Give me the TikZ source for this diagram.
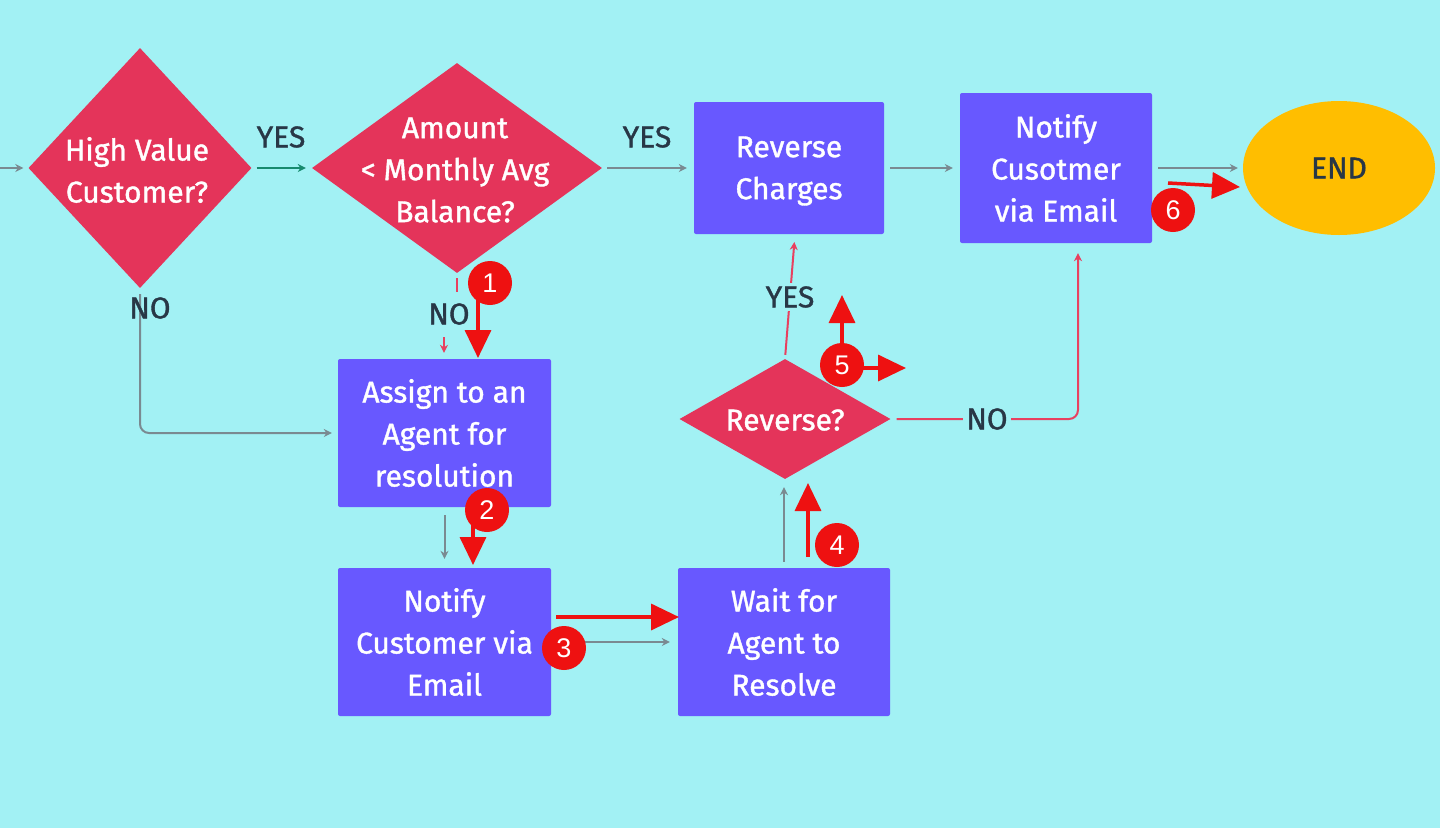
\documentclass[tikz,border=0pt]{standalone}
\usepackage{fontspec}
\setmainfont{Fira Sans}[RawFeature={embolden=1.2}]
\newfontfamily\numfont{Liberation Sans}
\usetikzlibrary{shapes.geometric,arrows.meta}
\definecolor{bg}{RGB}{162,241,244}
\definecolor{dred}{RGB}{228,52,90}
\definecolor{bpur}{RGB}{104,88,255}
\definecolor{endy}{RGB}{255,190,0}
\definecolor{lgray}{RGB}{122,138,145}
\definecolor{lgreen}{RGB}{23,138,110}
\definecolor{lred}{RGB}{232,64,95}
\definecolor{ared}{RGB}{238,17,17}
\definecolor{lbl}{RGB}{40,55,70}
\begin{document}
\begin{tikzpicture}[x=1pt,y=-1pt,
  dia/.style={diamond, fill=dred, draw=none, inner sep=0pt},
  dtext/.style={text=white, align=center, font=\fontsize{30}{42}\selectfont, inner sep=0pt},
  boxs/.style={rectangle, rounded corners=2pt, fill=bpur, text=white, align=center,
     font=\fontsize{30}{42}\selectfont, inner sep=0pt},
  lab/.style={text=lbl, font=\fontsize{30}{30}\selectfont, inner sep=1pt},
  labf/.style={lab, fill=bg, inner sep=3pt},
  gline/.style={draw=lgray, line width=2pt, -{Stealth[length=8pt,width=8pt]}},
  rline/.style={draw=lred, line width=2pt, -{Stealth[length=8pt,width=8pt]}},
  ann/.style={draw=ared, line width=3.5pt, -{Triangle[length=28pt,width=26pt]}},
  num/.style={circle, fill=ared, text=white, minimum size=44pt, inner sep=0pt,
     font=\numfont\fontsize{27}{27}\selectfont}
]
\fill[bg] (0,0) rectangle (1440,828);
\useasboundingbox (0,0) rectangle (1440,828);

% decisions
\node[dia, minimum width=223pt, minimum height=240pt] (d1) at (140,168) {};
\node[dtext] at (137,170) {High Value\\Customer?};
\node[dia, minimum width=290pt, minimum height=210pt] (d2) at (457,168) {};
\node[dtext] at (455,170) {Amount\\< Monthly Avg\\Balance?};
\node[dia, minimum width=211pt, minimum height=120pt] (rv) at (785,419) {};
\node[dtext] at (785,420) {Reverse?};

% boxes
\node[boxs, minimum width=190pt, minimum height=132pt] (rc) at (789,168) {};
\node[dtext] at (789,171) {Reverse\\Charges};
\node[boxs, minimum width=192pt, minimum height=150pt] (nt) at (1056,168) {Notify\\Cusotmer\\via Email};
\node[boxs, minimum width=213pt, minimum height=148pt] (as) at (444.5,433) {Assign to an\\Agent for\\resolution};
\node[boxs, minimum width=213pt, minimum height=148pt] (nb) at (444.5,642) {Notify\\Customer via\\Email};
\node[boxs, minimum width=212pt, minimum height=148pt] (wt) at (784,642) {Wait for\\Agent to\\Resolve};
\node[ellipse, fill=endy, minimum width=192pt, minimum height=134pt, inner sep=0pt,
      text=lbl, font=\fontsize{30}{30}\selectfont] (end) at (1339,168) {END};

% connectors
\coordinate (in0) at (0,168);
\draw[gline, shorten >=5pt] (in0) -- (d1.west);
\draw[gline, draw=lgreen, shorten <=5pt, shorten >=6pt] (d1.east) -- (d2.west);
\node[lab] at (281,137) {YES};
\draw[gline, shorten <=5pt, shorten >=7pt] (d2.east) -- (rc.west);
\node[lab] at (647,137) {YES};
\draw[gline, shorten <=6pt, shorten >=7pt] (rc.east) -- (nt.west);
\draw[gline, shorten <=6pt, shorten >=5pt] (nt.east) -- (end.west);

\draw[gline, rounded corners=9pt, shorten <=6pt, shorten >=6pt] (d1.south) -- (d1.south |- as.west) -- (as.west);
\node[lab] at (150,308) {NO};

\coordinate (n2a) at (457,278);
\coordinate (n2b) at (457,292);
\draw[draw=lred, line width=2pt] (n2a) -- (n2b);
\node[lab] at (449,314) {NO};
\coordinate (n2) at (444,337);
\draw[rline, shorten >=6pt] (n2) -- (n2 |- as.north);

\draw[gline, shorten <=8pt, shorten >=9pt] (as.south) -- (nb.north);
\draw[gline, shorten <=5pt, shorten >=8pt] (nb.east) -- (wt.west);
\draw[gline, shorten <=6pt, shorten >=8pt] (wt.north) -- (wt.north |- rv.south);

\coordinate (ry) at (795,234);
\draw[rline, shorten <=4pt, shorten >=8pt] (rv.north) -- (ry);
\node[labf] at (790,297) {YES};

\coordinate (nx) at (1078,419);
\draw[rline, rounded corners=9pt, shorten <=6pt, shorten >=10pt] (rv.east) -- (nx) -- (nx |- nt.south);
\node[labf] at (987,419) {NO};

% annotations
\coordinate (a1s) at (478,298); \coordinate (a1e) at (478,358);
\coordinate (a2s) at (473,510); \coordinate (a2e) at (473,565);
\coordinate (a3s) at (556,617); \coordinate (a3e) at (679,617);
\coordinate (a4s) at (808,557); \coordinate (a4e) at (808,483);
\coordinate (a5s) at (842,365); \coordinate (a5e) at (842,295);
\coordinate (a5t) at (906,368);
\coordinate (a6s) at (1168,183); \coordinate (a6e) at (1240,187);
\draw[ann] (a1s) -- (a1e);
\draw[ann] (a2s) -- (a2e);
\draw[ann] (a3s) -- (a3e);
\draw[ann] (a4s) -- (a4e);
\draw[ann] (a5s) -- (a5e);
\draw[ann] (a5s |- a5t) -- (a5t);
\draw[ann] (a6s) -- (a6e);
\node[num] (c1) at (490,283) {1};
\node[num] (c2) at (487,510) {2};
\node[num] (c3) at (564,648) {3};
\node[num] (c4) at (837,545) {4};
\node[num] (c5) at (842,365) {5};
\node[num] (c6) at (1173,210) {6};
\end{tikzpicture}
\end{document}
